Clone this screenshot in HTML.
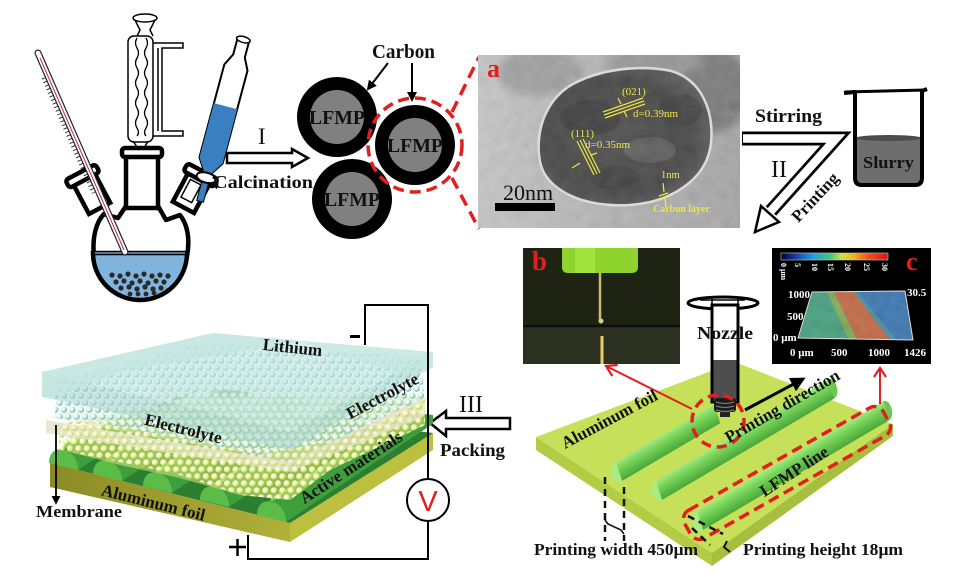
<!DOCTYPE html>
<html><head><meta charset="utf-8"><style>
html,body{margin:0;padding:0;background:#fff;overflow:hidden}
svg{display:block}
.t{font-family:"Liberation Serif","DejaVu Serif",serif;font-weight:bold;fill:#111}
.r{font-family:"Liberation Serif","DejaVu Serif",serif;font-weight:normal;fill:#111}
.y{font-family:"Liberation Serif","DejaVu Serif",serif;fill:#f2e640}
.w{font-family:"Liberation Serif","DejaVu Serif",serif;font-weight:bold;fill:#fff}
</style></head><body>
<svg xmlns="http://www.w3.org/2000/svg" width="967" height="577" viewBox="0 0 967 577">
<defs>
<marker id="ah" viewBox="0 0 10 10" refX="8" refY="5" markerWidth="5" markerHeight="5" orient="auto"><path d="M0,0 L10,5 L0,10 Z" fill="#000"/></marker>
<radialGradient id="sc" cx="0.35" cy="0.35" r="0.7"><stop offset="0" stop-color="#fff"/><stop offset="0.45" stop-color="#d6f4ee"/><stop offset="1" stop-color="#5fb2a8"/></radialGradient>
<radialGradient id="sy" cx="0.35" cy="0.35" r="0.7"><stop offset="0" stop-color="#fff"/><stop offset="0.45" stop-color="#f4fab8"/><stop offset="1" stop-color="#b2c234"/></radialGradient>
<pattern id="pc" width="8.5" height="14" patternUnits="userSpaceOnUse"><circle cx="4.25" cy="3.5" r="3.3" fill="url(#sc)"/><circle cx="0" cy="10.5" r="3.3" fill="url(#sc)"/><circle cx="8.5" cy="10.5" r="3.3" fill="url(#sc)"/></pattern>
<pattern id="py" width="8.5" height="14" patternUnits="userSpaceOnUse" x="2" y="4"><circle cx="4.25" cy="3.5" r="3.3" fill="url(#sy)"/><circle cx="0" cy="10.5" r="3.3" fill="url(#sy)"/><circle cx="8.5" cy="10.5" r="3.3" fill="url(#sy)"/></pattern>
<linearGradient id="temBg" x1="0" y1="0" x2="1" y2="0"><stop offset="0" stop-color="#c6c6c6"/><stop offset="0.5" stop-color="#b2b2b2"/><stop offset="1" stop-color="#a4a4a4"/></linearGradient>
<radialGradient id="temP" cx="0.45" cy="0.5" r="0.6"><stop offset="0" stop-color="#464646"/><stop offset="0.7" stop-color="#3c3c3c"/><stop offset="1" stop-color="#565656"/></radialGradient>
<filter id="noise" x="0" y="0" width="1" height="1"><feTurbulence type="fractalNoise" baseFrequency="0.09" numOctaves="3" seed="4"/><feColorMatrix type="matrix" values="0.33 0.33 0.33 0 0 0.33 0.33 0.33 0 0 0.33 0.33 0.33 0 0 0 0 0 0 1"/></filter>
<filter id="blur4"><feGaussianBlur stdDeviation="4"/></filter>
<linearGradient id="cbar" x1="0" y1="0" x2="1" y2="0"><stop offset="0" stop-color="#000028"/><stop offset="0.12" stop-color="#1830a8"/><stop offset="0.3" stop-color="#20a0e0"/><stop offset="0.45" stop-color="#40c080"/><stop offset="0.57" stop-color="#d0e040"/><stop offset="0.68" stop-color="#f0b020"/><stop offset="0.82" stop-color="#f05020"/><stop offset="1" stop-color="#e01010"/></linearGradient>
<linearGradient id="cylG" x1="0" y1="0" x2="0" y2="1"><stop offset="0" stop-color="#a2ea80"/><stop offset="0.35" stop-color="#78d45a"/><stop offset="1" stop-color="#4aa83a"/></linearGradient>
<linearGradient id="bfront" x1="0" y1="0" x2="1" y2="0"><stop offset="0" stop-color="#8c8a24"/><stop offset="1" stop-color="#b0b03a"/></linearGradient>
<clipPath id="btop"><polygon points="50,445 205,387 433,415 433,433 290,523 50,463"/></clipPath>
<clipPath id="trap"><polygon points="812,292 905,291 913,340 798,338"/></clipPath>
<clipPath id="temc"><rect x="478" y="55" width="262" height="173"/></clipPath>
</defs>

<!-- ============ FLASK ============ -->
<path d="M94,256 C92,238 96,222 104,214 L118,218 L126,206 L158,206 L166,220 L180,215 C188,225 190,240 187,256 Z" fill="#fff" stroke="#000" stroke-width="4.5" stroke-linejoin="round"/>
<g transform="translate(93,196) rotate(-28)"><rect x="-12" y="-20" width="24" height="34" fill="#fff" stroke="#000" stroke-width="4.5"/><rect x="-17" y="-27" width="34" height="9" rx="3" fill="#fff" stroke="#000" stroke-width="4.5"/></g>
<g transform="translate(190,195) rotate(28)"><rect x="-12" y="-20" width="24" height="34" fill="#fff" stroke="#000" stroke-width="4.5"/><rect x="-17" y="-27" width="34" height="9" rx="3" fill="#fff" stroke="#000" stroke-width="4.5"/><rect x="-7" y="-14" width="12" height="20" fill="none" stroke="#000" stroke-width="1.5"/></g>
<rect x="126" y="154" width="32" height="54" fill="#fff" stroke="#000" stroke-width="4.5"/>
<rect x="122" y="148" width="40" height="9" rx="3" fill="#fff" stroke="#000" stroke-width="4.5"/>
<path d="M93,253 A47,47 0 0 0 187,253 Z" fill="#80b4dc" stroke="#000" stroke-width="4.5"/>
<line x1="95" y1="253" x2="185" y2="253" stroke="#6aa0cc" stroke-width="1.5"/>
<g fill="#2a2a2a">
<circle cx="112" cy="275" r="2.6"/><circle cx="120" cy="276" r="2.6"/><circle cx="128" cy="274" r="2.6"/><circle cx="136" cy="276" r="2.6"/><circle cx="144" cy="274" r="2.6"/><circle cx="152" cy="276" r="2.6"/><circle cx="160" cy="275" r="2.6"/><circle cx="168" cy="276" r="2.6"/>
<circle cx="116" cy="282" r="2.6"/><circle cx="124" cy="281" r="2.6"/><circle cx="132" cy="283" r="2.6"/><circle cx="140" cy="281" r="2.6"/><circle cx="148" cy="283" r="2.6"/><circle cx="156" cy="281" r="2.6"/><circle cx="164" cy="282" r="2.6"/>
<circle cx="121" cy="288" r="2.6"/><circle cx="129" cy="287" r="2.6"/><circle cx="137" cy="289" r="2.6"/><circle cx="145" cy="287" r="2.6"/><circle cx="153" cy="289" r="2.6"/><circle cx="161" cy="288" r="2.6"/>
<circle cx="130" cy="294" r="2.4"/><circle cx="138" cy="294" r="2.4"/><circle cx="146" cy="294" r="2.4"/><circle cx="154" cy="293" r="2.4"/>
</g>
<!-- thermometer -->
<line x1="38" y1="53" x2="125" y2="252" stroke="#223" stroke-width="7" stroke-linecap="round"/>
<line x1="38" y1="53" x2="125" y2="252" stroke="#fff" stroke-width="4.6" stroke-linecap="round"/>
<line x1="40" y1="58" x2="124" y2="250" stroke="#c83030" stroke-width="1"/>
<line x1="43.4" y1="78" x2="93.4" y2="193" stroke="#222" stroke-width="4" stroke-dasharray="0.9 3"/>
<!-- condenser -->
<ellipse cx="145" cy="18" rx="12" ry="4" fill="#fff" stroke="#000" stroke-width="1.5"/>
<path d="M135,20 L140,30 L137,36 M155,20 L150,30 L153,36" fill="none" stroke="#000" stroke-width="1.5"/>
<rect x="128" y="36" width="25" height="106" rx="6" fill="#fff" stroke="#000" stroke-width="1.5"/>
<path d="M137,38 q-3,5 0,10 q3,5 0,10 q-3,5 0,10 q3,5 0,10 q-3,5 0,10 q3,5 0,10 q-3,5 0,10 q3,5 0,10 q-3,5 0,10 q3,5 0,8 M146,38 q3,5 0,10 q-3,5 0,10 q3,5 0,10 q-3,5 0,10 q3,5 0,10 q-3,5 0,10 q3,5 0,10 q-3,5 0,10 q3,5 0,10 q-3,5 0,8" fill="none" stroke="#000" stroke-width="1.3"/>
<path d="M133,141 L139,150 M148,141 L143,150" stroke="#000" stroke-width="1.5"/>
<path d="M153,43 L183,43 L183,48 L162,48 L162,131 L183,131 L183,136 L153,136 M158,48 L158,131" fill="none" stroke="#000" stroke-width="1.5"/>
<!-- dropping funnel -->
<g transform="translate(224,112) rotate(15)">
<path d="M-6,-74 L-6,-58 L-12,-46 L-12,50 L-3,64 L-3,92 L3,92 L3,64 L12,50 L12,-46 L6,-58 L6,-74 Z" fill="#fff" stroke="#000" stroke-width="2"/>
<path d="M-12,-6 L12,-6 L12,50 L3,64 L3,92 L-3,92 L-3,64 L-12,50 Z" fill="#3a7fc0"/>
<ellipse cx="0" cy="-75" rx="7" ry="3" fill="#fff" stroke="#000" stroke-width="1.5"/>
<ellipse cx="0" cy="68" rx="10" ry="5" fill="#fff" stroke="#000" stroke-width="2"/>
<path d="M6,66 q8,2 6,10" fill="none" stroke="#000" stroke-width="2"/>
</g>
<!-- arrow I -->
<polygon points="227,153 292,153 292,149 308,158 292,167 292,163 227,163" fill="#fff" stroke="#000" stroke-width="2.5" stroke-linejoin="miter"/>
<text class="r" x="258" y="144" font-size="23">I</text>
<text class="t" x="213" y="188" font-size="17.5" textLength="100" lengthAdjust="spacingAndGlyphs">Calcination</text>

<!-- ============ CARBON CIRCLES ============ -->
<circle cx="337" cy="117" r="40" fill="#000"/><circle cx="337" cy="117" r="27" fill="#808080"/>
<circle cx="352" cy="199" r="40" fill="#000"/><circle cx="352" cy="199" r="27" fill="#808080"/>
<circle cx="415" cy="145" r="40" fill="#000"/><circle cx="415" cy="145" r="27" fill="#808080"/>
<text class="t" x="337" y="124" font-size="19.5" text-anchor="middle" fill="#1a1a1a" textLength="56" lengthAdjust="spacingAndGlyphs">LFMP</text>
<text class="t" x="352" y="206" font-size="19.5" text-anchor="middle" fill="#1a1a1a" textLength="56" lengthAdjust="spacingAndGlyphs">LFMP</text>
<text class="t" x="415" y="152" font-size="19.5" text-anchor="middle" fill="#1a1a1a" textLength="56" lengthAdjust="spacingAndGlyphs">LFMP</text>
<text class="t" x="372" y="58" font-size="20" textLength="63" lengthAdjust="spacingAndGlyphs">Carbon</text>
<line x1="388" y1="63" x2="368" y2="89" stroke="#000" stroke-width="2" marker-end="url(#ah)"/>
<line x1="412" y1="63" x2="412" y2="100" stroke="#000" stroke-width="2" marker-end="url(#ah)"/>
<circle cx="415" cy="145" r="47" fill="none" stroke="#e21e1e" stroke-width="3.5" stroke-dasharray="11 6"/>
<line x1="452" y1="112" x2="479" y2="57" stroke="#e21e1e" stroke-width="3.5" stroke-dasharray="12 7"/>
<line x1="452" y1="178" x2="479" y2="229" stroke="#e21e1e" stroke-width="3.5" stroke-dasharray="12 7"/>

<!-- ============ TEM ============ -->
<rect x="478" y="55" width="262" height="173" fill="url(#temBg)"/>
<g clip-path="url(#temc)">
<ellipse cx="540" cy="72" rx="42" ry="24" fill="#9e9e9e" filter="url(#blur4)"/>
<ellipse cx="715" cy="90" rx="34" ry="42" fill="#767676" filter="url(#blur4)"/>
<ellipse cx="655" cy="62" rx="50" ry="12" fill="#939393" filter="url(#blur4)"/>
</g>
<path d="M541,160 C536,130 548,100 572,86 C600,70 640,66 670,72 C700,80 712,110 710,140 C708,168 690,185 665,196 C635,208 595,206 570,194 C550,184 543,172 541,160 Z" fill="none" stroke="#e2e2e2" stroke-width="5"/>
<path d="M541,160 C536,130 548,100 572,86 C600,70 640,66 670,72 C700,80 712,110 710,140 C708,168 690,185 665,196 C635,208 595,206 570,194 C550,184 543,172 541,160 Z" fill="url(#temP)"/>
<ellipse cx="590" cy="118" rx="30" ry="18" fill="#2e2e2e" opacity="0.6"/>
<ellipse cx="650" cy="150" rx="26" ry="13" fill="#6a6a6a" opacity="0.5"/>
<ellipse cx="615" cy="178" rx="25" ry="12" fill="#333" opacity="0.6"/>
<ellipse cx="680" cy="110" rx="22" ry="16" fill="#303030" opacity="0.5"/>
<rect x="478" y="55" width="262" height="173" filter="url(#noise)" opacity="0.16"/>
<text x="487" y="77" font-family="Liberation Serif,serif" font-weight="bold" font-size="26" fill="#e21e1e">a</text>
<g stroke="#f2e640" stroke-width="1.2" fill="none">
<line x1="603" y1="112" x2="643" y2="98"/><line x1="604" y1="115" x2="644" y2="101"/><line x1="605" y1="118" x2="645" y2="104"/>
<line x1="577" y1="141" x2="594" y2="175"/><line x1="580" y1="140" x2="597" y2="174"/><line x1="583" y1="139" x2="600" y2="173"/>
<line x1="618" y1="98" x2="621" y2="104"/><line x1="627" y1="117" x2="624" y2="111"/>
<line x1="572" y1="168" x2="580" y2="163"/><line x1="597" y1="153" x2="591" y2="155"/>
<line x1="659" y1="196" x2="668" y2="193"/><line x1="659" y1="199" x2="668" y2="196"/>
<line x1="663" y1="183" x2="664" y2="192"/><line x1="666" y1="207" x2="665" y2="199"/>
</g>
<text class="y" x="622" y="95" font-size="11">(021)</text>
<text class="y" x="633" y="117" font-size="11">d=0.39nm</text>
<text class="y" x="571" y="137" font-size="11">(111)</text>
<text class="y" x="585" y="148" font-size="11">d=0.35nm</text>
<text class="y" x="661" y="178" font-size="10.5">1nm</text>
<text class="y" x="653" y="212" font-size="10" font-weight="bold">Carbon layer</text>
<text class="r" x="503" y="200" font-size="22" fill="#111">20nm</text>
<rect x="495" y="203" width="60" height="8" fill="#000"/>

<!-- ============ STIRRING / PRINTING ============ -->
<path d="M742,138.5 L836,138.5 L771,211" fill="none" stroke="#000" stroke-width="14" stroke-linejoin="miter"/>
<polygon points="779,222 755,232 761,206" fill="#fff" stroke="#000" stroke-width="2.5" stroke-linejoin="miter"/>
<path d="M743,138.5 L836,138.5 L770,212" fill="none" stroke="#fff" stroke-width="8.5" stroke-linejoin="miter"/>
<text class="t" x="755" y="122" font-size="19" textLength="67" lengthAdjust="spacingAndGlyphs">Stirring</text>
<text class="r" x="771" y="177" font-size="24">II</text>
<text class="t" x="0" y="0" font-size="17" text-anchor="middle" transform="translate(819,201) rotate(-47)">Printing</text>
<!-- beaker -->
<rect x="855" y="137" width="67" height="48" rx="6" fill="#6e6e6e"/>
<ellipse cx="888.5" cy="138" rx="33" ry="3" fill="#4c4c4c"/>
<path d="M844,93 L855,92 L855,178 Q855,185 862,185 L915,185 Q922,185 922,178 L922,91 L927,89" fill="none" stroke="#000" stroke-width="4" stroke-linejoin="round"/>
<line x1="845" y1="92" x2="926" y2="90" stroke="#000" stroke-width="3"/>
<text class="t" x="863" y="168" font-size="16.5" textLength="51" lengthAdjust="spacingAndGlyphs">Slurry</text>

<!-- ============ PHOTO B ============ -->
<rect x="523" y="248" width="157" height="116" fill="#1f2314"/>
<rect x="523" y="326" width="157" height="38" fill="#2b3020"/>
<line x1="523" y1="326" x2="680" y2="326" stroke="#0c0e08" stroke-width="2.5"/>
<path d="M562,248 L638,248 L638,267 Q638,273 632,273 L568,273 Q562,273 562,267 Z" fill="#8fd42e"/>
<rect x="575" y="248" width="20" height="25" fill="#b4f050" opacity="0.5"/>
<line x1="600" y1="273" x2="600" y2="320" stroke="#c6bf6a" stroke-width="2.5"/>
<circle cx="601" cy="321" r="2.5" fill="#d8d080"/>
<line x1="602" y1="336" x2="602" y2="364" stroke="#e8d060" stroke-width="3"/>
<text x="532" y="270" font-family="Liberation Serif,serif" font-weight="bold" font-size="27" fill="#e21e1e">b</text>

<!-- ============ PHOTO C ============ -->
<rect x="772" y="248" width="159" height="116" fill="#000"/>
<rect x="781" y="253" width="107" height="7" fill="url(#cbar)" stroke="#ccc" stroke-width="0.6"/>
<g class="w" font-size="8">
<text transform="translate(781,263) rotate(90)">0 μm</text>
<text transform="translate(795,263) rotate(90)">5</text>
<text transform="translate(812,263) rotate(90)">10</text>
<text transform="translate(828,263) rotate(90)">15</text>
<text transform="translate(845,263) rotate(90)">20</text>
<text transform="translate(864,263) rotate(90)">25</text>
<text transform="translate(882,263) rotate(90)">30</text>
</g>
<text x="906" y="270" font-family="Liberation Serif,serif" font-weight="bold" font-size="26" fill="#e21e1e">c</text>
<g clip-path="url(#trap)">
<rect x="795" y="288" width="120" height="55" fill="#3c9c78"/>
<polygon points="852,290 910,290 915,342 892,342" fill="#2e70ae"/>
<polygon points="845,290 856,290 898,342 884,342" fill="#3a8aa0"/>
<polygon points="826,290 836,290 866,342 850,342" fill="#7aa84a"/>
<polygon points="833,290 852,290 892,342 858,342" fill="#bf6038"/>
<rect x="795" y="288" width="120" height="55" filter="url(#noise)" opacity="0.18"/>
</g>
<polygon points="812,292 905,291 913,340 798,338" fill="none" stroke="#ddd" stroke-width="1"/>
<g class="w" font-size="11">
<text x="788" y="298">1000</text>
<text x="787" y="320">500</text>
<text x="773" y="341">0 μm</text>
<text x="907" y="296">30.5</text>
<text x="790" y="356">0 μm</text>
<text x="831" y="356">500</text>
<text x="868" y="356">1000</text>
<text x="904" y="356">1426</text>
</g>

<!-- ============ PRINTING FOIL ============ -->
<polygon points="536,437 712,553 712,566 536,450" fill="#b2cc46"/>
<polygon points="712,553 893,424 893,436 712,566" fill="#a6bf3e"/>
<polygon points="536,437 735,362 893,424 712,553" fill="#c7e05a"/>
<g transform="matrix(0.862,-0.508,0.3,0.95,622,481)">
<rect x="0" y="-20" width="114" height="20" fill="url(#cylG)"/>
<path d="M0,0 A8,10 0 0 1 0,-20 Z" fill="#a8ec88"/>
</g>
<g transform="matrix(0.862,-0.508,0.3,0.95,662,500)">
<rect x="0" y="-20" width="200" height="20" fill="url(#cylG)"/>
<path d="M0,0 A8,10 0 0 1 0,-20 Z" fill="#a8ec88"/>
<path d="M200,0 A6,10 0 0 0 200,-20 Z" fill="#6cc850"/>
</g>
<g transform="matrix(0.862,-0.508,0.3,0.95,703,530)">
<rect x="0" y="-20" width="216" height="20" fill="url(#cylG)"/>
<path d="M0,0 A8,10 0 0 1 0,-20 Z" fill="#a8ec88"/>
<path d="M216,0 A6,10 0 0 0 216,-20 Z" fill="#6cc850"/>
</g>
<!-- nozzle -->
<ellipse cx="723" cy="303" rx="35" ry="6" fill="none" stroke="#000" stroke-width="3"/>
<path d="M712,297 L712,309 M738,297 L738,309 M700,300 L745,300" stroke="#000" stroke-width="1.5"/>
<rect x="712" y="305" width="26" height="97" fill="#fff" stroke="#000" stroke-width="3"/>
<rect x="713.5" y="360" width="23" height="40" fill="#4e4e4e"/>
<rect x="714" y="398" width="22" height="14" rx="3" fill="#1c1c1c"/>
<path d="M716,402 q9,3 18,0 M716,406 q9,3 18,0 M716,410 q9,3 18,0" stroke="#888" stroke-width="1" fill="none"/>
<rect x="720" y="412" width="10" height="5" fill="#222"/>
<text class="t" x="697" y="339" font-size="18" textLength="56" lengthAdjust="spacingAndGlyphs">Nozzle</text>
<circle cx="718" cy="421" r="26" fill="none" stroke="#e21e1e" stroke-width="3.5" stroke-dasharray="10 6"/>
<rect x="-114" y="-16" width="228" height="32" rx="10" fill="none" stroke="#e21e1e" stroke-width="3.5" stroke-dasharray="11 6" transform="translate(787,473) rotate(-29.5)"/>
<line x1="692" y1="409" x2="606" y2="366" stroke="#e21e1e" stroke-width="2"/>
<polyline points="617.6,365 606,366 612.3,376" fill="none" stroke="#e21e1e" stroke-width="2.2"/>
<line x1="880" y1="404" x2="880" y2="368" stroke="#e21e1e" stroke-width="2"/>
<polyline points="874,377 880,368 886,377" fill="none" stroke="#e21e1e" stroke-width="2.2"/>
<line x1="745" y1="410" x2="803" y2="379" stroke="#000" stroke-width="3" marker-end="url(#ah)"/>
<text class="t" font-size="17" text-anchor="middle" transform="translate(612,424) rotate(-28)">Aluminum  foil</text>
<text class="t" font-size="17" text-anchor="middle" transform="translate(785,411) rotate(-30)">Printing direction</text>
<text class="t" font-size="17" text-anchor="middle" transform="translate(797,476) rotate(-33)">LFMP line</text>
<g stroke="#111" stroke-width="2.5" stroke-dasharray="7 5" fill="none">
<line x1="605" y1="477" x2="605" y2="541"/>
<line x1="624" y1="487" x2="624" y2="541"/>
<line x1="688" y1="516" x2="723" y2="534"/>
<line x1="692" y1="528" x2="710" y2="545"/>
</g>
<polyline points="605,520 608,524 621,530 624,534" fill="none" stroke="#111" stroke-width="1.6"/>
<path d="M727,541 L724,547 L730,552" fill="none" stroke="#111" stroke-width="2"/>
<text class="t" x="534" y="555" font-size="17" textLength="164" lengthAdjust="spacingAndGlyphs">Printing width 450μm</text>
<text class="t" x="743" y="555" font-size="17" textLength="160" lengthAdjust="spacingAndGlyphs">Printing height 18μm</text>

<!-- ============ PACKING ARROW ============ -->
<polygon points="430,423 446,411 446,418 510,418 510,429 446,429 446,436" fill="#fff" stroke="#000" stroke-width="2.5"/>
<text class="r" x="459" y="412" font-size="24">III</text>
<text class="t" x="440" y="456" font-size="18" textLength="65" lengthAdjust="spacingAndGlyphs">Packing</text>

<!-- ============ BATTERY ============ -->
<polygon points="50,463 290,523 290,542 50,487" fill="url(#bfront)"/>
<polygon points="290,523 433,433 433,450 290,542" fill="#bcc03e"/>
<polygon points="50,463 205,405 433,433 290,523" fill="#2c7e30"/>
<g clip-path="url(#btop)">
<g fill="#3f9e3c">
<polygon points="49,463 63,447 233,341 247,357 78,470"/>
<polygon points="93,474 107,458 277,352 291,368 122,481"/>
<polygon points="143,486 157,470 327,364 341,380 172,493"/>
<polygon points="200,500 214,484 384,378 398,394 229,507"/>
<polygon points="257,515 271,499 441,393 455,409 286,522"/>
</g>
<g stroke="#7ad466" stroke-width="3">
<line x1="63" y1="448" x2="233" y2="342"/><line x1="107" y1="459" x2="277" y2="353"/><line x1="157" y1="471" x2="327" y2="365"/><line x1="214" y1="485" x2="384" y2="379"/><line x1="271" y1="500" x2="441" y2="394"/>
</g>
</g>
<g fill="#5cbc48">
<path d="M49,463 C49,441 78,447 78,470 Z"/>
<path d="M93,474 C93,452 122,458 122,481 Z"/>
<path d="M143,486 C143,464 172,470 172,493 Z"/>
<path d="M200,500 C200,478 229,484 229,507 Z"/>
<path d="M257,515 C257,493 286,499 286,522 Z"/>
</g>
<polygon points="70,428 200,398 425,400 425,425 330,470 290,500 240,495 180,478 120,465 70,452" fill="#dfe97a" opacity="0.55"/>
<polygon points="58,425 200,395 425,398 425,425 330,470 290,500 240,495 180,475 120,462 60,450" fill="url(#py)"/>
<polygon points="46,417 205,380 430,398 290,462" fill="#ecebd4" opacity="0.4"/>
<polygon points="46,420 290,462 290,472 46,433" fill="#e6e4cc" opacity="0.9"/>
<polygon points="290,462 423,397 423,417 290,472" fill="#e6e4cc" opacity="0.8"/>
<polygon points="60,424 290,465 423,402 423,412 290,473 60,433" fill="url(#py)" opacity="0.8"/>
<polygon points="55,386 60,379 210,341 420,358 425,398 335,440 260,455 180,438 110,425 55,418" fill="url(#pc)"/>
<polygon points="42,372 213,333 433,352 290,432" fill="#bfe4df" opacity="0.6"/>
<polygon points="42,372 290,432 290,450 42,397" fill="#a9d6cf" opacity="0.55"/>
<polygon points="290,432 433,352 433,367 290,450" fill="#a9d6cf" opacity="0.55"/>
<polygon points="42,372 213,333 300,341 120,372 60,395 42,397" fill="#c2e6e0" opacity="0.7"/>
<polygon points="300,341 433,352 433,367 400,372 340,356" fill="#c2e6e0" opacity="0.6"/>
<!-- circuit -->
<polyline points="365,345 365,305 428,305 428,479" fill="none" stroke="#000" stroke-width="2"/>
<circle cx="428" cy="500" r="21" fill="#fff" stroke="#000" stroke-width="2"/>
<text x="428" y="511" font-family="Liberation Sans,sans-serif" font-size="29" text-anchor="middle" fill="#e21e1e">V</text>
<polyline points="428,521 428,559 248,559 248,535" fill="none" stroke="#000" stroke-width="2"/>
<rect x="350" y="335" width="10" height="3" fill="#000"/>
<path d="M229,547 L246,547 M237.5,539 L237.5,556" stroke="#000" stroke-width="2.5"/>
<line x1="56" y1="425" x2="56" y2="503" stroke="#000" stroke-width="1.8" marker-end="url(#ah)"/>
<text class="t" font-size="17" text-anchor="middle" transform="translate(292,353) rotate(6)">Lithium</text>
<text class="t" font-size="17" text-anchor="middle" transform="translate(182,434) rotate(14)">Electrolyte</text>
<text class="t" font-size="17" text-anchor="middle" transform="translate(385,401) rotate(-28)">Electrolyte</text>
<text class="t" font-size="17" text-anchor="middle" transform="translate(354,472) rotate(-33)">Active materials</text>
<text class="t" font-size="17" text-anchor="middle" transform="translate(152,508) rotate(14)">Aluminum foil</text>
<text class="t" x="36" y="517" font-size="16.5" textLength="86" lengthAdjust="spacingAndGlyphs">Membrane</text>
</svg>
</body></html>
